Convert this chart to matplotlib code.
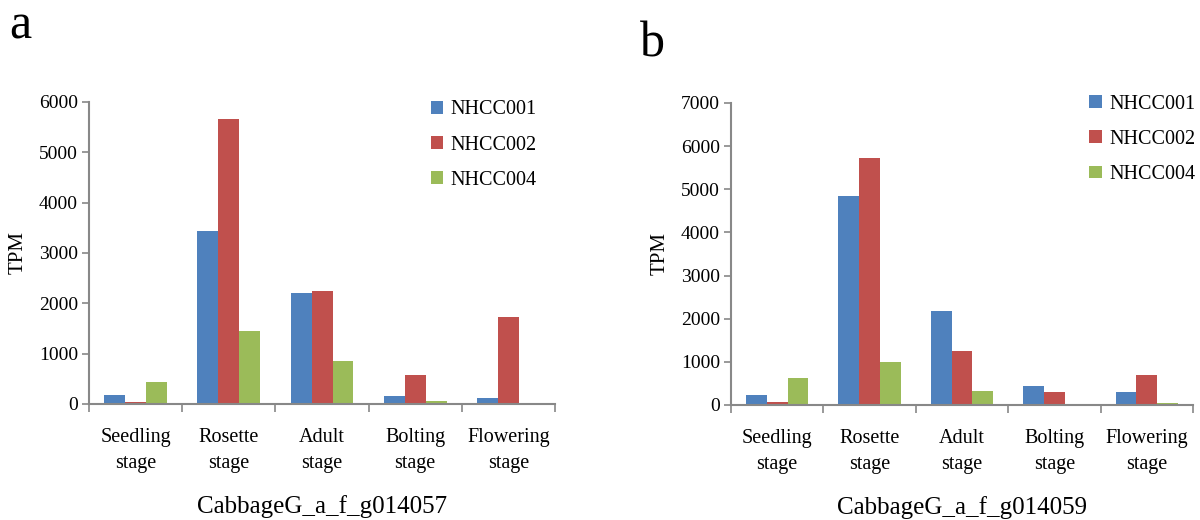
import matplotlib.pyplot as plt
import numpy as np

plt.rcParams['font.family'] = ['Liberation Serif', 'DejaVu Serif']

#data
stages = ['Seedling\nstage', 'Rosette\nstage', 'Adult\nstage', 'Bolting\nstage', 'Flowering\nstage']
series = ['NHCC001', 'NHCC002', 'NHCC004']
colors = ['#4F81BD', '#C0504D', '#9BBB59']

g057_001 = [180, 3435, 2200, 150, 125]
g057_002 = [40, 5655, 2235, 575, 1725]
g057_004 = [430, 1445, 855, 65, 0]

g059_001 = [240, 4855, 2170, 430, 300]
g059_002 = [70, 5715, 1255, 300, 690]
g059_004 = [625, 985, 335, 0, 40]

#figure
fig = plt.figure(figsize=[12, 5.2], dpi=100)
ax1 = fig.add_axes([0.0742, 0.2231, 0.3883, 0.5808])
ax2 = fig.add_axes([0.6092, 0.2212, 0.3850, 0.5808])

def draw(ax, data, ymax, gene, legend_anchor):
  x = np.arange(len(stages))
  w = 0.225
  for i, (vals, name, c) in enumerate(zip(data, series, colors)):
    ax.bar(x + (i - 1) * w, vals, w, color=c, label=name)
  ax.set_xlim(-0.5, len(stages) - 0.5)
  ax.set_ylim(0, ymax)
  ax.set_yticks(np.arange(0, ymax + 1, 1000))
  ax.set_xticks(x)
  ax.set_xticklabels(stages, fontsize=14.5, linespacing=1.5)
  ax.set_xticks(np.arange(-0.5, len(stages), 1), minor=True)
  ax.tick_params(axis='x', which='major', length=0, pad=17)
  ax.tick_params(axis='x', which='minor', length=6, direction='out', color='#888888', width=1.2)
  ax.tick_params(axis='y', length=5, direction='out', color='#888888', width=1.2, labelsize=14, pad=3)
  for s in ['top', 'right']:
    ax.spines[s].set_visible(False)
  for s in ['left', 'bottom']:
    ax.spines[s].set_color('#888888')
    ax.spines[s].set_linewidth(1.5)
  ax.set_ylabel('TPM', fontsize=15, labelpad=8)
  ax.set_xlabel(gene, fontsize=18, labelpad=16)
  ax.legend(loc='upper right', bbox_to_anchor=legend_anchor, frameon=False, fontsize=14.5,
            handlelength=0.6, handleheight=0.6, handletextpad=0.4, labelspacing=0.8)

draw(ax1, [g057_001, g057_002, g057_004], 6000, 'CabbageG_a_f_g014057', (1.0, 1.065))
draw(ax2, [g059_001, g059_002, g059_004], 7000, 'CabbageG_a_f_g014059', (1.045, 1.087))

#panel letters
fig.text(0.008, 0.905, 'a', fontsize=36, va='bottom')
fig.text(0.533, 0.87, 'b', fontsize=36, va='bottom')

plt.savefig('out.png', dpi=100)
